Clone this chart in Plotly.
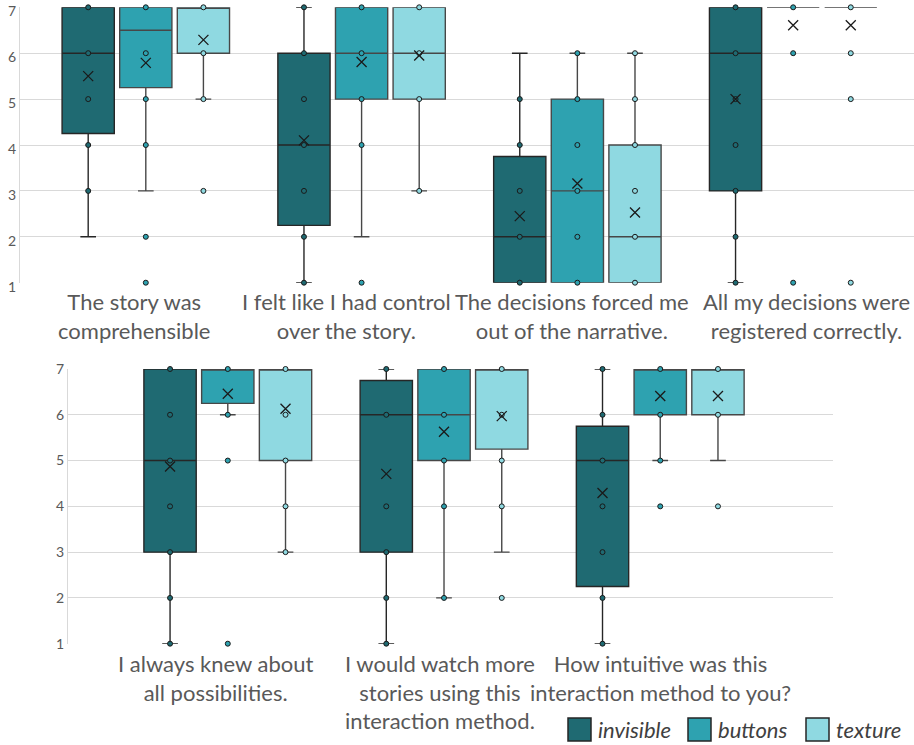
import plotly.graph_objects as go

# Survey statements (Likert 1-7), split over two rows of panels
top_categories = [
    "The story was<br>comprehensible",
    "I felt like I had control<br>over the story.",
    "The decisions forced me<br>out of the narrative.",
    "All my decisions were<br>registered correctly.",
]
bottom_categories = [
    "I always knew about<br>all possibilities.",
    "I would watch more<br>stories using this<br>interaction method.",
    "How intuitive was this<br>interaction method to you?",
]

series_names = ["invisible", "buttons", "texture"]

# ---- top row statistics ----
top_q1 = {"invisible": [4.25, 2.25, 1, 3], "buttons": [5.25, 5, 1, 7], "texture": [6, 5, 1, 7]}
top_median = {"invisible": [6, 4, 2, 6], "buttons": [6.5, 6, 3, 7], "texture": [7, 6, 2, 7]}
top_q3 = {"invisible": [7, 6, 3.75, 7], "buttons": [7, 7, 5, 7], "texture": [7, 7, 4, 7]}
top_low = {"invisible": [2, 1, 1, 1], "buttons": [3, 2, 1, 7], "texture": [5, 3, 1, 7]}
top_high = {"invisible": [7, 7, 6, 7], "buttons": [7, 7, 6, 7], "texture": [7, 7, 6, 7]}
top_mean = {"invisible": [5.5, 4.1, 2.45, 5.0], "buttons": [5.79, 5.81, 3.16, 6.61],
            "texture": [6.29, 5.95, 2.53, 6.61]}
top_points = {
    "invisible": [[7, 6, 5, 4, 3], [7, 6, 5, 4, 3, 2, 1], [5, 4, 3, 2, 1], [7, 6, 5, 4, 3, 2, 1]],
    "buttons": [[7, 6, 5, 4, 2, 1], [7, 6, 5, 4, 1], [6, 5, 4, 3, 2, 1], [7, 6, 1]],
    "texture": [[7, 6, 5, 3], [7, 6, 5, 3], [6, 5, 4, 3, 2, 1], [7, 6, 5, 1]],
}

# ---- bottom row statistics ----
bot_q1 = {"invisible": [3, 3, 2.25], "buttons": [6.25, 5, 6], "texture": [5, 5.25, 6]}
bot_median = {"invisible": [5, 6, 5], "buttons": [7, 6, 7], "texture": [7, 7, 7]}
bot_q3 = {"invisible": [7, 6.75, 5.75], "buttons": [7, 7, 7], "texture": [7, 7, 7]}
bot_low = {"invisible": [1, 1, 1], "buttons": [6, 2, 5], "texture": [3, 3, 5]}
bot_high = {"invisible": [7, 7, 7], "buttons": [7, 7, 7], "texture": [7, 7, 7]}
bot_mean = {"invisible": [4.87, 4.71, 4.29], "buttons": [6.46, 5.63, 6.41], "texture": [6.13, 5.97, 6.41]}
bot_points = {
    "invisible": [[7, 6, 5, 4, 3, 2, 1], [7, 6, 4, 3, 2, 1], [7, 6, 5, 4, 3, 2, 1]],
    "buttons": [[7, 6, 5, 1], [7, 6, 5, 4, 2], [7, 6, 5, 4]],
    "texture": [[7, 6, 5, 4, 3], [7, 6, 5, 4, 2], [7, 6, 4]],
}

y_ticks = [1, 2, 3, 4, 5, 6, 7]

# ---- styling ----
fill = {"invisible": "#1F6A72", "buttons": "#2EA2B0", "texture": "#8FD9E1"}
edge = {"invisible": "#262626", "buttons": "#474747", "texture": "#474747"}
offset = {"invisible": -0.267, "buttons": 0.0, "texture": 0.267}
BOX_W = 0.242
TEXT = "#595959"
GRID = "#D9D9D9"
FONT = "Lato, Calibri, Arial, sans-serif"
top_label_shift = [-12, -15, -5, 13]     # px nudges of the statement captions
bot_label_shift = [-12, -4, 0]

fig = go.Figure()


def add_row(n, q1, med, q3, lo, hi, mean, pts, xa, ya):
    for s in series_names:
        xs = [i + offset[s] for i in range(n)]
        fig.add_trace(go.Box(
            x=xs, q1=q1[s], median=med[s], q3=q3[s],
            lowerfence=lo[s], upperfence=hi[s],
            width=BOX_W, whiskerwidth=0.3, boxpoints=False,
            fillcolor=fill[s], line=dict(color=edge[s], width=1.4),
            xaxis=xa, yaxis=ya, showlegend=False, name=s,
        ))
    for s in series_names:
        px, py = [], []
        for i, vals in enumerate(pts[s]):
            px += [i + offset[s]] * len(vals)
            py += vals
        fig.add_trace(go.Scatter(
            x=px, y=py, mode="markers", cliponaxis=False,
            marker=dict(symbol="circle", size=5, color=fill[s],
                        line=dict(color="#1a1a1a", width=1)),
            xaxis=xa, yaxis=ya, showlegend=False, hoverinfo="skip",
        ))
    for s in series_names:
        fig.add_trace(go.Scatter(
            x=[i + offset[s] for i in range(n)], y=mean[s], mode="markers",
            cliponaxis=False,
            marker=dict(symbol="x-thin", size=10, color="#1a1a1a",
                        line=dict(color="#1a1a1a", width=1.3)),
            xaxis=xa, yaxis=ya, showlegend=False, hoverinfo="skip",
        ))


add_row(len(top_categories), top_q1, top_median, top_q3, top_low, top_high,
        top_mean, top_points, "x", "y")
add_row(len(bottom_categories), bot_q1, bot_median, bot_q3, bot_low, bot_high,
        bot_mean, bot_points, "x2", "y2")

W, H = 914, 745

xcommon = dict(showgrid=False, zeroline=False, showline=False, ticks="",
               showticklabels=False, automargin=False)
ycommon = dict(range=[1, 7], tickvals=y_ticks, showgrid=True, gridcolor=GRID,
               gridwidth=1, zeroline=False, showline=True, linecolor=GRID,
               linewidth=1, ticks="", automargin=False, ticklabeloverflow="allow",
               tickfont=dict(family=FONT, size=14, color=TEXT))

fig.update_layout(
    width=W, height=H,
    margin=dict(l=0, r=0, t=0, b=0),
    paper_bgcolor="white", plot_bgcolor="white",
    boxmode="overlay",
    xaxis=dict(domain=[20 / W, 1.0], range=[-0.583, 3.56], anchor="y", **xcommon),
    yaxis=dict(domain=[1 - 282.7 / H, 1 - 7.3 / H], anchor="x", ticklabelshift=4,
               **ycommon),
    xaxis2=dict(domain=[68 / W, 833 / W], range=[-0.739, 2.799], anchor="y2", **xcommon),
    yaxis2=dict(domain=[1 - 643.7 / H, 1 - 369 / H], anchor="x2", **ycommon),
)

# statement captions under each group of boxes
for i, label in enumerate(top_categories):
    fig.add_annotation(xref="x", yref="paper", x=i, y=1 - 286 / H,
                       xshift=top_label_shift[i], xanchor="center", yanchor="top",
                       align="center", showarrow=False, text=label,
                       font=dict(family=FONT, size=22, color=TEXT))
for i, label in enumerate(bottom_categories):
    fig.add_annotation(xref="x2", yref="paper", x=i, y=1 - 648 / H,
                       xshift=bot_label_shift[i], xanchor="center", yanchor="top",
                       align="center", showarrow=False, text=label,
                       font=dict(family=FONT, size=22, color=TEXT))

# legend: colour swatches with italic labels at the lower right
legend_x = {"invisible": 568, "buttons": 688, "texture": 806}
for s in series_names:
    x0 = legend_x[s]
    fig.add_shape(type="rect", xref="paper", yref="paper",
                  x0=x0 / W, x1=(x0 + 23) / W, y0=1 - 741 / H, y1=1 - 718 / H,
                  fillcolor=fill[s], line=dict(color="#262626", width=1.5))
    fig.add_annotation(xref="paper", yref="paper", x=(x0 + 28) / W, y=1 - 729.5 / H,
                       xanchor="left", yanchor="middle", showarrow=False,
                       text="<i>" + s + "</i>",
                       font=dict(family=FONT, size=22, color="#404040"))

fig.write_html("out.html")
